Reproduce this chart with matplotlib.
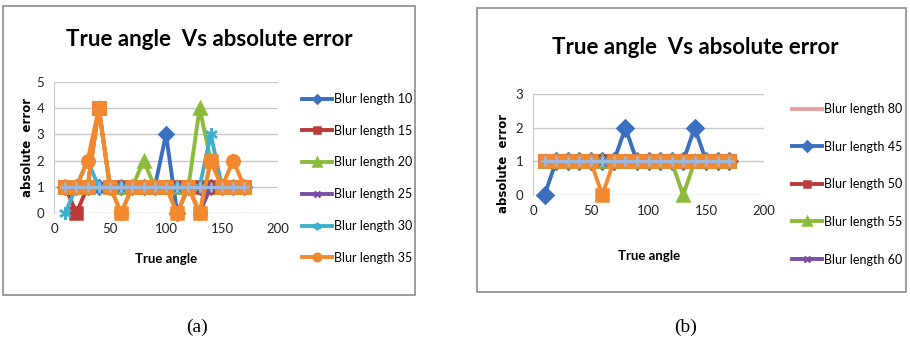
import matplotlib.pyplot as plt
from matplotlib.patches import Rectangle

plt.rcParams['font.family'] = ['Lato', 'DejaVu Sans']

W, H = 910, 339

angles = [10, 20, 30, 40, 50, 60, 70, 80, 90, 100, 110, 120, 130, 140, 150, 160, 170]

# panel (a): blur lengths 10..35
labels_a = ['Blur length 10', 'Blur length 15', 'Blur length 20',
            'Blur length 25', 'Blur length 30', 'Blur length 35']
err_a_10 = [1, 1, 1, 1, 1, 1, 1, 1, 1, 3, 0, 1, 1, 1, 1, 1, 1]
err_a_15 = [1, 0, 1, 4, 1, 1, 1, 1, 1, 1, 1, 1, 1, 1, 1, 1, 1]
err_a_20 = [1, 1, 1, 4, 1, 1, 1, 2, 1, 1, 1, 1, 4, 2, 1, 1, 1]
err_a_25 = [1, 1, 1, 1, 1, 1, 1, 1, 1, 1, 1, 1, 0, 1, 1, 1, 1]
err_a_30 = [0, 1, 2, 1, 1, 1, 1, 1, 1, 1, 1, 1, 1, 3, 1, 1, 1]
err_a_35 = [1, 1, 2, 4, 1, 0, 1, 1, 1, 1, 0, 1, 0, 2, 1, 2, 1]
err_a_sq = [1, 1, 1, 4, 1, 0, 1, 1, 1, 1, 0, 1, 0, 2, 1, 1, 1]
err_a_base = [1] * 17

# panel (b): blur lengths 45..80
labels_b = ['Blur length 80', 'Blur length 45', 'Blur length 50',
            'Blur length 55', 'Blur length 60']
err_b_80 = [1] * 17
err_b_45 = [0, 1, 1, 1, 1, 1, 1, 2, 1, 1, 1, 1, 1, 2, 1, 1, 1]
err_b_50 = [1] * 17
err_b_55 = [1, 1, 1, 1, 1, 1, 1, 1, 1, 1, 1, 1, 0, 1, 1, 1, 1]
err_b_60 = [1] * 17
err_b_sq = [1, 1, 1, 1, 1, 0, 1, 1, 1, 1, 1, 1, 1, 1, 1, 1, 1]
err_b_aq = [1] * 17
err_b_base = [1] * 17

BLUE = '#3b6fc0'
RED = '#b93a36'
GREEN = '#8cbb3c'
PURPLE = '#7a4fa3'
AQUA = '#3fb0cc'
ORANGE = '#f2892e'
LIGHT = '#9fb8de'
PINK = '#e9a0a0'


def fx(px):
    return px / W


def fy(py):
    return 1 - py / H


fig = plt.figure(figsize=(W / 100, H / 100), dpi=100)

# chart frames
fig.patches.append(Rectangle((fx(3), fy(295)), fx(412), 289 / H, transform=fig.transFigure,
                             fill=False, edgecolor='#8c8c8c', lw=1.2))
fig.patches.append(Rectangle((fx(477), fy(292)), fx(429), 284 / H, transform=fig.transFigure,
                             fill=False, edgecolor='#8c8c8c', lw=1.2))


def make_axes(x0, x1, ytop, ybot, ymax):
    ax = fig.add_axes([fx(x0), fy(ybot), fx(x1 - x0), (ybot - ytop) / H])
    ax.set_xlim(0, 200)
    ax.set_ylim(0, ymax)
    ax.set_xticks([0, 50, 100, 150, 200])
    ax.set_yticks(range(ymax + 1))
    ax.grid(axis='y', color='#c8c8c8', lw=1)
    ax.set_axisbelow(True)
    for s in ['top', 'right', 'bottom']:
        ax.spines[s].set_visible(False)
    ax.spines['left'].set_color('#c8c8c8')
    ax.tick_params(length=0, labelsize=9.5, colors='#222222', pad=7)
    return ax


def series(ax, y, color, marker, ms, label='_nolegend_', lw=2.8):
    ax.plot(angles, y, color=color, marker=marker, ms=ms, lw=lw, label=label,
            clip_on=False, mew=1.8)


# (a)
ax1 = make_axes(54, 278, 82, 213, 5)
series(ax1, err_a_10, BLUE, 'D', 7, labels_a[0])
series(ax1, err_a_15, RED, 's', 8, labels_a[1])
series(ax1, err_a_20, GREEN, '^', 9, labels_a[2])
series(ax1, err_a_25, PURPLE, 'x', 7, labels_a[3])
series(ax1, err_a_30, AQUA, (6, 2, 0), 9, labels_a[4])
series(ax1, err_a_35, ORANGE, 'o', 9, labels_a[5])
series(ax1, err_a_sq, ORANGE, 's', 9)
series(ax1, err_a_base, LIGHT, '+', 7, lw=2.2)

# (b)
ax2 = make_axes(533, 764, 94, 195, 3)
series(ax2, err_b_80, PINK, None, 0, labels_b[0])
series(ax2, err_b_45, BLUE, 'D', 8, labels_b[1])
series(ax2, err_b_50, RED, 's', 8, labels_b[2])
series(ax2, err_b_55, GREEN, '^', 9, labels_b[3])
series(ax2, err_b_60, PURPLE, 'x', 7, labels_b[4])
series(ax2, err_b_aq, AQUA, (6, 2, 0), 9)
series(ax2, err_b_sq, ORANGE, 's', 9)
series(ax2, err_b_base, LIGHT, '+', 7, lw=2.2)

# titles and axis labels
title_kw = dict(ha='center', va='center', fontsize=16, fontweight='bold')
fig.text(fx(209), fy(40), 'True angle  Vs absolute error', **title_kw)
fig.text(fx(695), fy(47), 'True angle  Vs absolute error', **title_kw)

ylab_kw = dict(ha='center', va='center', rotation=90, fontsize=8.5, fontweight='bold',
               family='DejaVu Sans')
fig.text(fx(28), fy(147), 'absolute  error', **ylab_kw)
fig.text(fx(503), fy(163), 'absolute  error', **ylab_kw)

xlab_kw = dict(ha='center', va='center', fontsize=9.5, fontweight='bold')
fig.text(fx(166), fy(259), 'True angle', **xlab_kw)
fig.text(fx(649), fy(256), 'True angle', **xlab_kw)

# legends
leg_a = ax1.legend(loc='upper left', bbox_to_anchor=(fx(302), fy(93)),
                   bbox_transform=fig.transFigure, frameon=False, fontsize=9,
                   handlelength=2.4, handletextpad=0.2, labelspacing=1.58,
                   borderaxespad=0, borderpad=0, markerscale=0.6)
leg_b = ax2.legend(loc='upper left', bbox_to_anchor=(fx(792), fy(103)),
                   bbox_transform=fig.transFigure, frameon=False, fontsize=9,
                   handlelength=2.4, handletextpad=0.2, labelspacing=2.05,
                   borderaxespad=0, borderpad=0, markerscale=0.6)

# captions
cap_kw = dict(ha='center', va='center', fontsize=14, family='Liberation Serif')
fig.text(fx(197), fy(327), '(a)', **cap_kw)
fig.text(fx(686), fy(327), '(b)', **cap_kw)

fig.savefig('out.png', dpi=100)
